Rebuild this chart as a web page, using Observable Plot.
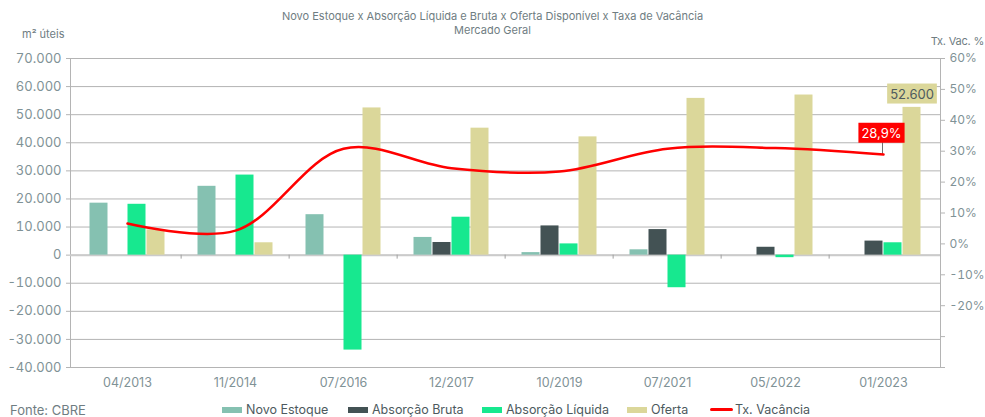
<!DOCTYPE html>
<html>
<head>
<meta charset="utf-8">
<script src="https://cdn.jsdelivr.net/npm/d3@7"></script>
<script src="https://cdn.jsdelivr.net/npm/@observablehq/plot@0.6"></script>
<style>
  html, body { margin: 0; padding: 0; background: #fff; }
  body { width: 985px; height: 417px; position: relative; overflow: hidden; font-family: Inter, "Noto Sans", sans-serif; }
  #header { position: relative; height: 48px; }
  #title { position: absolute; left: 0; right: 0; top: 9px; text-align: center; font-size: 11px; line-height: 14px; color: #6f7d82; }
  #yl { position: absolute; left: 22px; top: 27px; font-size: 11px; color: #6f7d82; }
  #yr { position: absolute; right: 1px; top: 34px; font-size: 11px; color: #6f7d82; white-space: nowrap; letter-spacing: -0.2px; }
  #chart { position: relative; width: 985px; height: 347px; }
  #chart svg { position: absolute; left: 0; top: 0; overflow: visible; }
  #legend { position: relative; height: 22px; font-size: 12.5px; color: #4d5a5e; }
  #legend .it { position: absolute; top: 7px; white-space: nowrap; line-height: 16px; }
  #legend .sw { display: inline-block; width: 20px; height: 6px; vertical-align: middle; margin-right: 4px; position: relative; top: -1px; }
  #legend .ln { display: inline-block; width: 23px; height: 3px; vertical-align: middle; margin-right: 2px; position: relative; top: -1px; background: #ff0000; border-radius: 2px; }
  #fonte { position: absolute; left: 10px; top: 7px; font-size: 13px; color: #6f7d82; line-height: 16px; }
</style>
</head>
<body>
<div id="header">
  <div id="title">Novo Estoque x Absorção Líquida e Bruta x Oferta Disponível x Taxa de Vacância<br>Mercado Geral</div>
  <div id="yl">m² úteis</div>
  <div id="yr">Tx. Vac. %</div>
</div>
<div id="chart"></div>
<div id="legend"><div id="fonte">Fonte: CBRE</div></div>
<script>
// ---- data ----
const dates = ["04/2013", "11/2014", "07/2016", "12/2017", "10/2019", "07/2021", "05/2022", "01/2023"];
const series = ["Novo Estoque", "Absorção Bruta", "Absorção Líquida", "Oferta"];
const novoEstoque = [18500, 24500, 14400, 6300, 900, 1900, null, null];
const absorcaoBruta = [null, null, null, 4500, 10400, 9100, 2800, 5000];
const absorcaoLiquida = [18100, 28500, -33800, 13500, 4000, -11600, -900, 4400];
const oferta = [9000, 4400, 52400, 45200, 42100, 55800, 57000, 52600];
const txVacancia = [6.6, 4.3, 30.8, 24.5, 23.4, 30.8, 31.0, 28.9];
const leftTicks = [-40000, -30000, -20000, -10000, 0, 10000, 20000, 30000, 40000, 50000, 60000, 70000];
const rightTicks = [-40, -30, -20, -10, 0, 10, 20, 30, 40, 50, 60];
const rightLabelMin = -20;
const colors = ["#85c1b1", "#435254", "#17e88f", "#dbd79a"];
const lineColor = "#ff0000";

// ---- layout ----
const W = 985, H = 347, mt = 10, mb = 28, ml = 70, mr = 45;
const step = (W - ml - mr) / dates.length;
const tickColor = "#7f9296";
const font = "Inter, 'Noto Sans', sans-serif";

const valuesBySeries = [novoEstoque, absorcaoBruta, absorcaoLiquida, oferta];
const rows = [];
dates.forEach((d, i) => series.forEach((s, j) => {
  const v = valuesBySeries[j][i];
  if (v != null) rows.push({date: d, series: s, value: v});
}));
const vac = dates.map((d, i) => ({date: d, value: txVacancia[i]}));

const fmtThousands = v => {
  const s = Math.abs(v).toString().replace(/\B(?=(\d{3})+(?!\d))/g, ".");
  return (v < 0 ? "-" : "") + s;
};
const fmtPct = v => (v < 0 ? "-" : "") + Math.abs(v) + "%";

const common = {width: W, height: H, marginTop: mt, marginBottom: mb, marginLeft: ml, marginRight: mr,
  style: {fontFamily: font, background: "transparent", overflow: "visible"}};

// bottom layer: grid, frame, left axis, category labels
const layerBottom = Plot.plot({
  ...common,
  x: {type: "band", domain: dates, padding: 0, axis: null},
  y: {domain: [leftTicks[0], leftTicks[leftTicks.length - 1]], axis: null},
  marks: [
    Plot.gridY(leftTicks, {stroke: "#b4b4b4", strokeOpacity: 1, strokeWidth: 1}),
    Plot.frame({stroke: "#b4b4b4", strokeWidth: 1}),
    Plot.ruleY([0], {stroke: "#cbcbcb", strokeWidth: 2}),
    Plot.ruleX(dates.slice(1), {x: d => d, y1: 0, y2: 0, dx: -step / 2, insetTop: 0, insetBottom: -4, stroke: "#a0a0a0"}),
    Plot.axisY(leftTicks, {anchor: "left", tickSize: 4, tickPadding: 5, tickFormat: fmtThousands, label: null,
      stroke: "#b4b4b4", fill: tickColor, fontSize: 13}),
    Plot.axisX(dates, {anchor: "bottom", tickSize: 0, tickPadding: 11, label: null, fill: tickColor, fontSize: 12.5})
  ]
});

// middle layer: grouped bars
const layerMiddle = Plot.plot({
  ...common,
  fx: {domain: dates, paddingInner: 0.28, paddingOuter: 0.14, axis: null, label: null},
  x: {domain: series, padding: 0, axis: null},
  y: {domain: [leftTicks[0], leftTicks[leftTicks.length - 1]], axis: null},
  color: {domain: series, range: colors},
  marks: [
    Plot.barY(rows, {fx: "date", x: "series", y: "value", fill: "series", insetLeft: 0.5, insetRight: 0.5}),
    Plot.text(rows.filter(r => r.date === dates[dates.length - 1] && r.series === "Oferta"),
      {fx: "date", x: "series", y: "value", text: r => fmtThousands(r.value), dy: -13,
       fill: "#4d5a5e", fontSize: 13, className: "box-oferta"})
  ]
});

// top layer: vacancy line, right axis, label
const last = vac.slice(-1);
const layerTop = Plot.plot({
  ...common,
  x: {type: "band", domain: dates, padding: 0, axis: null},
  y: {domain: [rightTicks[0], rightTicks[rightTicks.length - 1]], axis: null},
  marks: [
    Plot.axisY(rightTicks, {anchor: "right", tickSize: 4, tickPadding: 5, label: null,
      tickFormat: v => v >= rightLabelMin ? fmtPct(v) : "", stroke: "#b4b4b4", fill: tickColor, fontSize: 12}),
    Plot.ruleX(last, {x: "date", y1: "value", y2: "value", insetTop: -12, insetBottom: 0, dx: -1, stroke: "#707070", strokeWidth: 1}),
    Plot.line(vac, {x: "date", y: "value", stroke: lineColor, strokeWidth: 2.5, curve: "catmull-rom"}),
    Plot.text(last, {x: "date", y: "value", text: d => d.value.toFixed(1).replace(".", ",") + "%",
      dy: -21, dx: -2, fill: "#ffffff", fontSize: 13, className: "box-vac"})
  ]
});

const chart = document.getElementById("chart");
chart.append(layerBottom, layerMiddle, layerTop);

// boxes behind data labels
function boxes(svg, cls, fill, px, py) {
  svg.querySelectorAll("." + cls + " text").forEach(t => {
    const b = t.getBBox();
    const r = document.createElementNS("http://www.w3.org/2000/svg", "rect");
    r.setAttribute("x", b.x - px); r.setAttribute("y", b.y - py);
    r.setAttribute("width", b.width + 2 * px); r.setAttribute("height", b.height + 2 * py);
    r.setAttribute("fill", fill);
    if (t.getAttribute("transform")) r.setAttribute("transform", t.getAttribute("transform"));
    t.parentNode.insertBefore(r, t);
  });
}
boxes(layerMiddle, "box-oferta", "#dbd79a", 3, 2);
boxes(layerTop, "box-vac", "#ff0000", 3, 2);

// legend
const legend = document.getElementById("legend");
const lx = [222, 348, 482, 627];
series.forEach((s, j) => {
  const it = document.createElement("div");
  it.className = "it"; it.style.left = lx[j] + "px";
  it.innerHTML = `<span class="sw" style="background:${colors[j]}"></span>${s}`;
  legend.append(it);
});
const lit = document.createElement("div");
lit.className = "it"; lit.style.left = "710px";
lit.innerHTML = `<span class="ln"></span>Tx. Vacância`;
legend.append(lit);
</script>
</body>
</html>
